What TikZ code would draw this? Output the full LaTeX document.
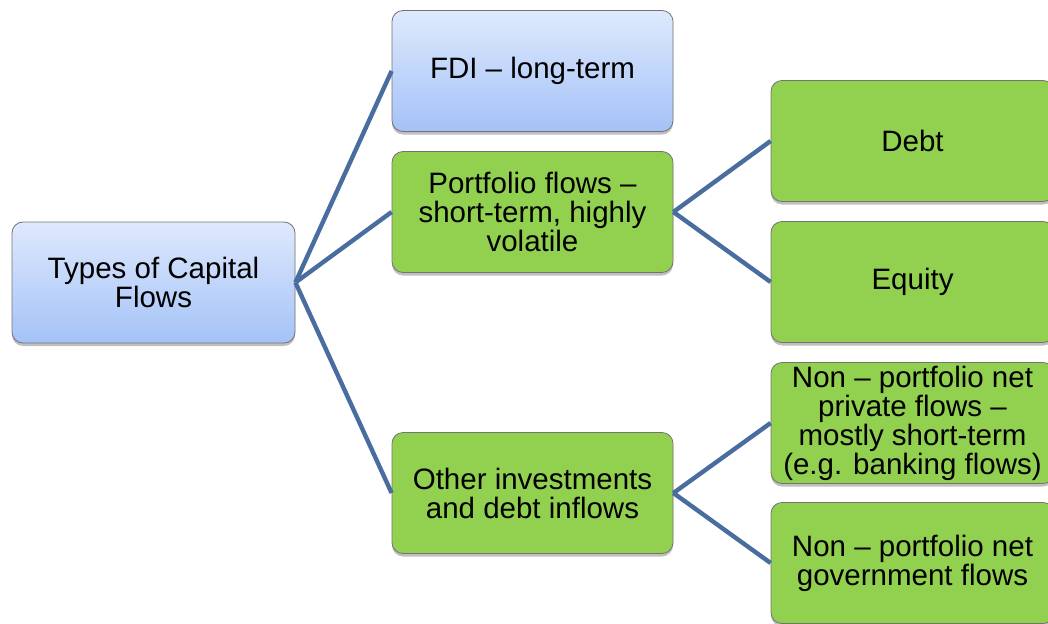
\documentclass[tikz,border=0pt]{standalone}
\usepackage{fontspec}
\setmainfont{Liberation Sans}
\usepackage{xcolor}
\usepackage{tikz}
\usetikzlibrary{positioning,calc,shadows}

\definecolor{topblue}{RGB}{222,233,253}
\definecolor{botblue}{RGB}{164,194,247}
\definecolor{leafgreen}{RGB}{146,208,80}
\definecolor{linkblue}{RGB}{72,109,158}

\begin{document}
\begin{tikzpicture}[x=1pt, y=-1pt,
  box/.style={draw=black!55, line width=0.8pt, rounded corners=11pt, align=center,
    minimum width=281pt, minimum height=121pt, inner sep=2pt,
    font=\fontsize{29.5}{29}\selectfont,
    drop shadow={shadow xshift=0pt, shadow yshift=-3pt, opacity=0.25, fill=black}},
  bluebox/.style={box, top color=topblue, bottom color=botblue},
  greenbox/.style={box, fill=leafgreen},
  link/.style={draw=linkblue, line width=4.4pt}]
\useasboundingbox (0,0) rectangle (1048,623);
\begin{scope}
\clip (0,0) rectangle (1048,623);
% top level
\node[bluebox, minimum width=283pt] (root) at (153.5,282.5) {Types of Capital\\Flows};
% middle column
\node[bluebox] (fdi) at (532.5,71) {FDI -- long-term};
\node[greenbox] (port) at (532.5,212) {Portfolio flows --\\short-term, highly\\volatile};
\node[greenbox] (other) at (532.5,493) {Other investments\\and debt inflows};
% right column
\node[greenbox, minimum width=283pt] (debt) at (912.5,141) {Debt};
\node[greenbox, minimum width=283pt] (equity) at (912.5,282) {Equity};
\node[greenbox, minimum width=283pt] (priv) at (912.5,423)
  {Non -- portfolio net\\private flows --\\mostly short-term\\(e.g. banking flows)};
\node[greenbox, minimum width=283pt] (gov) at (912.5,563)
  {Non -- portfolio net\\government flows};
\end{scope}
\draw[link] (root.east) -- (fdi.west);
\draw[link] (root.east) -- (port.west);
\draw[link] (root.east) -- (other.west);
\draw[link] (port.east) -- (debt.west);
\draw[link] (port.east) -- (equity.west);
\draw[link] (other.east) -- (priv.west);
\draw[link] (other.east) -- (gov.west);
\end{tikzpicture}
\end{document}
